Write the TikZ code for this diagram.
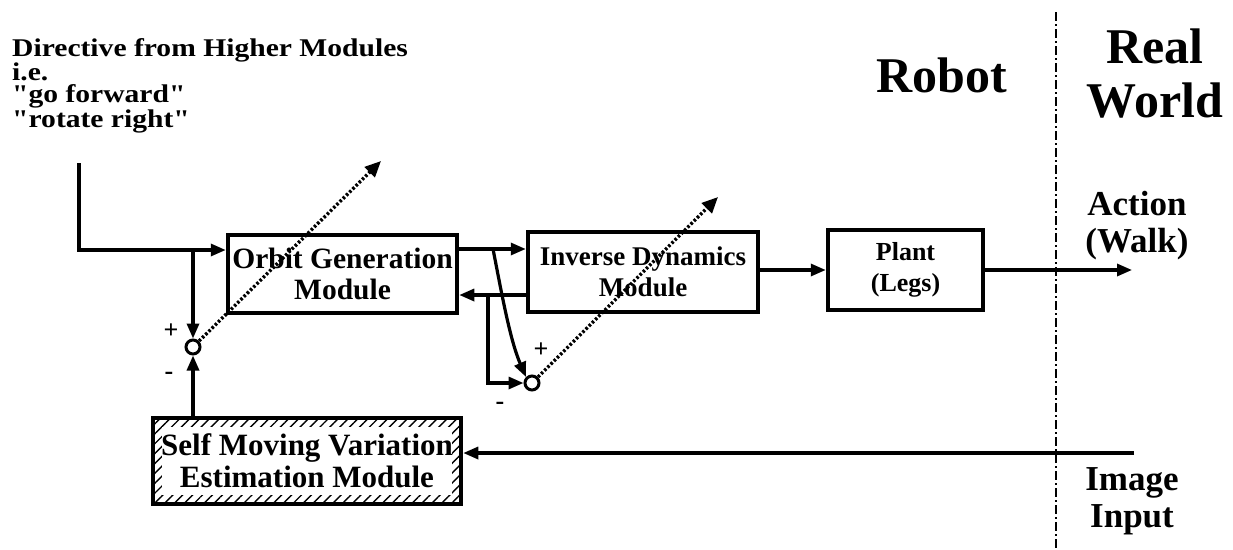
\documentclass[tikz,border=0pt]{standalone}
\usepackage{fontspec}
\defaultfontfeatures[\rmfamily]{}
\setmainfont{Liberation Serif}
\newfontfamily\dirfont{Liberation Serif}[FakeStretch=1.16]
\usetikzlibrary{arrows.meta,patterns.meta}
\begin{document}
\begin{tikzpicture}[x=1pt,y=-1pt,
  every node/.style={font=\bfseries},
  blk/.style={draw,line width=4.5pt,inner sep=0pt,align=center,
    font=\fontsize{29.5}{31}\selectfont\bfseries},
  sumc/.style={circle,draw,line width=3pt,minimum size=14pt,inner sep=0pt},
  arr/.style={line width=3.2pt,-{Triangle[length=15pt,width=12pt]}},
  ln/.style={line width=3.2pt},
  dotarr/.style={line width=3.4pt,dash pattern=on 2.5pt off 2pt,-{Triangle[length=16pt,width=14pt]}},
  sgn/.style={font=\fontsize{26}{26}\selectfont\bfseries,inner sep=0pt},
  dirt/.style={anchor=base west,inner sep=0pt,font=\dirfont\fontsize{25.5}{27}\selectfont\bfseries},
  big/.style={anchor=base,font=\fontsize{50}{50}\selectfont\bfseries,inner sep=0pt},
  mid/.style={font=\fontsize{35}{37}\selectfont\bfseries,align=center,inner sep=0pt}]
\useasboundingbox (0,0) rectangle (1233,549);

% texts
\node[dirt] (dir1) at (12,56) {Directive from Higher Modules};
\node[dirt] (dir2) at (12,80) {i.e.};
\node[dirt] (dir3) at (12,102.5) {"go forward"};
\node[dirt] (dir4) at (12,127) {"rotate right"};
\node[big] (robot) at (942,92) {Robot};
\node[big] (real) at (1155,63) {Real};
\node[big] (world) at (1155,117) {World};
\node[mid] (action) at (1137,226) {Action\\(Walk)};
\node[mid] (image) at (1132,501) {Image\\Input};

% boxes
\node[blk,minimum width=229pt,minimum height=78pt] (orbit) at (342.5,274) {Orbit Generation\\Module};
\node[blk,minimum width=230pt,minimum height=80pt,font=\fontsize{27}{31}\selectfont\bfseries] (inv) at (643,272) {Inverse Dynamics\\Module};
\node[blk,minimum width=155pt,minimum height=80pt,font=\fontsize{26}{31}\selectfont\bfseries] (plant) at (905.5,270) {Plant\\(Legs)};
\node[blk,minimum width=308pt,minimum height=86pt,font=\fontsize{31}{32}\selectfont\bfseries,
  path picture={
    \fill[pattern={Lines[angle=45,distance=7pt,line width=1.4pt]}]
      (path picture bounding box.south west) rectangle (path picture bounding box.north east);
    \fill[white] ([shift={(9pt,9pt)}]path picture bounding box.south west)
      rectangle ([shift={(-9pt,-9pt)}]path picture bounding box.north east);}
  ] (self) at (307,461) {Self Moving Variation\\Estimation Module};

% summing points
\node[sumc] (s1) at (193,347) {};
\node[sumc] (s2) at (532,383) {};
\node[sgn] (p1) at (171,331) {+};
\node[sgn] (m1) at (169,376) {-};
\node[sgn] (p2) at (541,350) {+};
\node[sgn] (m2) at (500,406) {-};

% coordinates
\coordinate (in) at (79,163);
\coordinate (j1) at (193,250);
\coordinate (r1) at (0,249);
\coordinate (r2) at (0,295);
\coordinate (r3) at (0,270);
\coordinate (t1) at (493,249);
\coordinate (t2) at (488,295);
\coordinate (act) at (1132,270);
\coordinate (img) at (1134,453);
\coordinate (d1) at (381,161);
\coordinate (d2) at (718,197);
\coordinate (vtop) at (1056,12);
\coordinate (vbot) at (1056,549);

% connectors
\draw[ln,line join=miter] (in) |- (j1);
\draw[arr] (j1) -- (j1 -| orbit.west);
\draw[arr] (j1) -- (s1.north);
\draw[arr] (self.north -| s1) -- (s1.south);
\draw[arr] (orbit.east |- r1) -- (inv.west |- r1);
\draw[arr] (inv.west |- r2) -- (orbit.east |- r2);
\draw[arr] (inv.east |- r3) -- (plant.west |- r3);
\draw[arr] (plant.east |- r3) -- (act);
\draw[arr] (t1) .. controls (502,295) and (510,340) .. (s2.north west);
\draw[arr,line join=miter] (t2) |- (s2.west);
\draw[arr] (img) -- (self.east |- img);
\draw[dotarr] (s1) -- (d1);
\draw[dotarr] (s2) -- (d2);
\draw[line width=2pt,dash pattern=on 9pt off 3pt on 2pt off 3pt] (vtop) -- (vbot);
\end{tikzpicture}
\end{document}
